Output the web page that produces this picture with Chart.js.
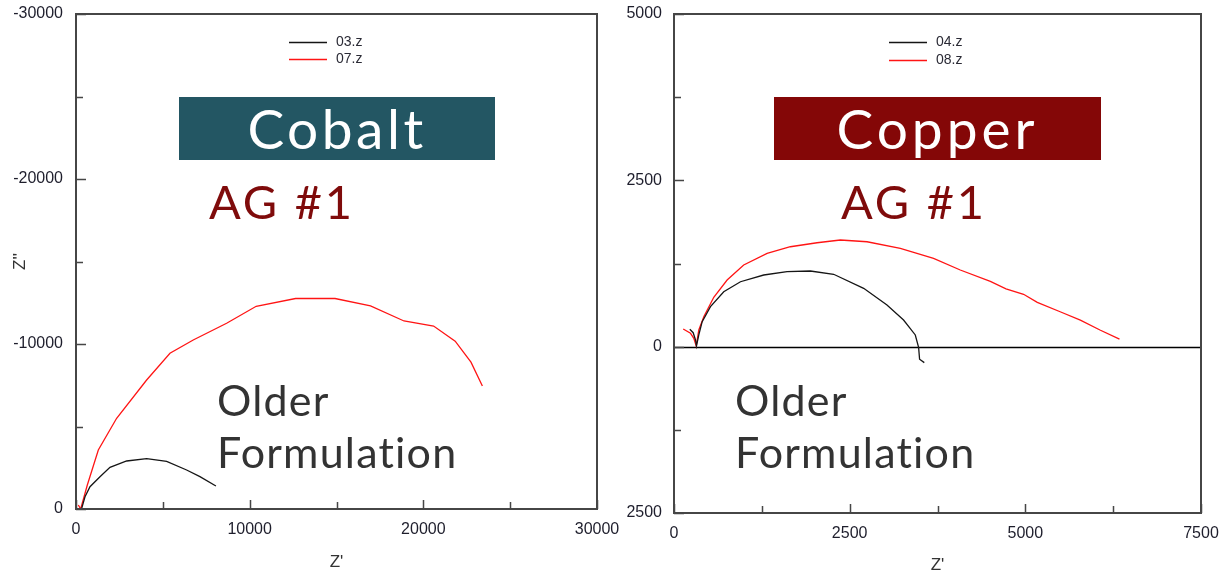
<!DOCTYPE html>
<html>
<head>
<meta charset="utf-8">
<title>Nyquist plots – Cobalt / Copper</title>
<script src="https://cdn.jsdelivr.net/npm/chart.js@4.4.0/dist/chart.umd.min.js"></script>
<style>
  html, body { margin: 0; padding: 0; background: #fff; }
  body { width: 1224px; height: 577px; position: relative; overflow: hidden; }
  #leftWrap { position: absolute; left: 0; top: 0; width: 622px; height: 577px; }
  #rightWrap { position: absolute; left: 627px; top: 0; width: 597px; height: 577px; overflow: hidden; }
  #rightWrap canvas { position: absolute; left: -17px; top: 0; }
  .tag, .ag, .older { font-family: Lato, "Noto Sans", sans-serif; font-variant-ligatures: none;
                      font-feature-settings: "liga" 0; white-space: nowrap; position: absolute; }
  .tag { color: #fff; text-align: center; font-size: 55px; height: 63px; line-height: 63px; top: 97px; }
  .ag { color: #7f0b0b; font-size: 47px; line-height: 47px; top: 178px; letter-spacing: 2.8px; }
  .older { color: #333; font-size: 43px; line-height: 52px; top: 374px; letter-spacing: 1.2px; }
</style>
</head>
<body>
<div id="leftWrap"><canvas id="cobalt" width="622" height="577"></canvas></div>
<div id="rightWrap"><canvas id="copper" width="614" height="577"></canvas></div>

<div class="tag" style="left:179px;width:316px;background:#235663;letter-spacing:3.5px;">Cobalt</div>
<div class="ag" style="left:209px;">AG #1</div>
<div class="older" style="left:217px;">Older<br>Formulation</div>

<div class="tag" style="left:774px;width:327px;background:#840707;letter-spacing:4px;">Copper</div>
<div class="ag" style="left:841px;">AG #1</div>
<div class="older" style="left:735px;">Older<br>Formulation</div>

<script>
// ---- Cobalt, sample 03.z (Z' / Z'' in ohm) ----
const cobalt03Re = [328, 518, 806, 1381, 1957, 2917, 4068, 5220, 6370, 7136, 8057];
const cobalt03Im = [-42, -745, -1352, -1958, -2525, -2909, -3051, -2889, -2364, -1958, -1394];
// ---- Cobalt, sample 07.z ----
const cobalt07Re = [134, 268, 652, 1285, 2340, 4067, 5410, 6750, 8673, 10376, 12644, 14915, 16959, 18887, 20591, 21834, 22743, 23400];
const cobalt07Im = [-242, 0, -1455, -3576, -5497, -7818, -9436, -10242, -11255, -12285, -12758, -12758, -12310, -11395, -11090, -10170, -8900, -7450];
// ---- Copper, sample 04.z ----
const copper04Re = [225, 273, 306, 320, 353, 401, 519, 708, 946, 1277, 1609, 1941, 2272, 2699, 3031, 3267, 3434, 3481, 3495, 3562];
const copper04Im = [-261, -210, -101, -10, -176, -376, -601, -826, -976, -1077, -1127, -1137, -1088, -877, -626, -401, -176, 9, 189, 240];
// ---- Copper, sample 08.z ----
const copper08Re = [131, 235, 282, 316, 353, 424, 566, 756, 992, 1325, 1656, 2036, 2367, 2747, 3221, 3694, 4074, 4502, 4725, 4975, 5170, 5504, 5783, 6062, 6340];
const copper08Im = [-266, -201, -126, -10, -251, -451, -742, -1002, -1227, -1403, -1502, -1562, -1603, -1577, -1478, -1328, -1152, -980, -870, -787, -665, -521, -400, -251, -113];

// ---- axis ranges and labelled tick values ----
const cobaltXRange = [0, 30000];
const cobaltYRange = [-30000, 0];
const cobaltXLabels = [0, 10000, 20000, 30000];
const cobaltYLabels = [-30000, -20000, -10000, 0];
const copperXRange = [0, 7500];
const copperYRange = [-5000, 2500];
const copperXLabels = [0, 2500, 5000, 7500];
const copperYLabels = [-5000, -2500, 0, 2500];

const toPoints = (re, im) => re.map((v, i) => ({ x: v, y: im[i] }));

Chart.defaults.font.family = '"Liberation Sans", Arial, sans-serif';
Chart.defaults.font.size = 16;
Chart.defaults.color = '#1e1e2c';

// Box around the plot area, inward tick marks, optional zero line
const frameTicks = {
  id: 'frameTicks',
  beforeDatasetsDraw(chart, args, opts) {
    if (!opts.zeroLine) return;
    const { ctx, chartArea: a, scales: { y } } = chart;
    const py = Math.round(y.getPixelForValue(0)) + 0.5;
    ctx.save();
    ctx.strokeStyle = '#000';
    ctx.lineWidth = 1.6;
    ctx.beginPath(); ctx.moveTo(a.left, py); ctx.lineTo(a.right, py); ctx.stroke();
    ctx.restore();
  },
  afterDatasetsDraw(chart) {
    const { ctx, chartArea: a, scales: { x, y } } = chart;
    ctx.save();
    ctx.strokeStyle = '#464646';
    ctx.lineWidth = 2;
    ctx.strokeRect(a.left, a.top, a.right - a.left, a.bottom - a.top);
    ctx.lineWidth = 1.5;
    ctx.beginPath();
    x.ticks.forEach(t => {
      const px = Math.round(x.getPixelForValue(t.value)) + 0.5;
      const len = t.label ? 9 : 7;
      ctx.moveTo(px, a.bottom); ctx.lineTo(px, a.bottom - len);
    });
    y.ticks.forEach(t => {
      const py = Math.round(y.getPixelForValue(t.value)) + 0.5;
      const len = t.label ? 10 : 7;
      ctx.moveTo(a.left, py); ctx.lineTo(a.left + len, py);
    });
    ctx.stroke();
    ctx.restore();
  }
};

// Small stacked legend drawn inside the plot area
const innerLegend = {
  id: 'innerLegend',
  afterDraw(chart, args, opts) {
    const { ctx } = chart;
    ctx.save();
    ctx.font = '14px "Liberation Sans", Arial, sans-serif';
    ctx.textBaseline = 'middle';
    chart.data.datasets.forEach((ds, i) => {
      const y = opts.y + i * opts.gap + 0.5;
      ctx.strokeStyle = ds.borderColor;
      ctx.lineWidth = 1.5;
      ctx.beginPath(); ctx.moveTo(opts.x, y); ctx.lineTo(opts.x + opts.len, y); ctx.stroke();
      ctx.fillStyle = '#2a2a35';
      ctx.fillText(ds.label, opts.x + opts.len + 9, y);
    });
    ctx.restore();
  }
};

function makeChart(id, series, xr, yr, xLabels, yLabels, xStep, yStep, layout, legendPos, extras) {
  return new Chart(document.getElementById(id), {
    type: 'scatter',
    data: {
      datasets: series.map(s => ({
        label: s.label,
        data: s.data,
        showLine: true,
        borderColor: s.color,
        borderWidth: 1.3,
        pointRadius: 0,
        tension: 0,
        fill: false
      }))
    },
    options: {
      responsive: false,
      animation: false,
      devicePixelRatio: 1,
      layout: { padding: layout.padding },
      plugins: {
        legend: { display: false },
        tooltip: { enabled: false },
        innerLegend: legendPos,
        frameTicks: { zeroLine: !!extras.zeroLine }
      },
      scales: {
        x: {
          type: 'linear', position: 'bottom', min: xr[0], max: xr[1],
          grid: { display: false, drawTicks: false },
          border: { display: false },
          ticks: {
            stepSize: xStep, autoSkip: false, maxRotation: 0, padding: layout.xPad,
            callback: v => xLabels.includes(v) ? String(v) : ''
          },
          title: { display: true, text: "Z'", font: { size: 17 }, color: '#333', padding: { top: 0, bottom: layout.xTitlePad } },
          afterFit: s => { s.height = layout.xHeight; s.paddingLeft = 0; s.paddingRight = 0; }
        },
        y: {
          type: 'linear', position: 'left', min: yr[0], max: yr[1], reverse: true,
          grid: { display: false, drawTicks: false },
          border: { display: false },
          ticks: {
            stepSize: yStep, autoSkip: false, padding: layout.yPad,
            callback: v => yLabels.includes(v) ? String(v) : ''
          },
          title: { display: extras.yTitle, text: "Z''", font: { size: 17 }, color: '#333', padding: { top: layout.yTitlePad, bottom: 0 } },
          afterFit: s => { s.width = layout.yWidth; s.paddingTop = 0; s.paddingBottom = 0; }
        }
      }
    },
    plugins: [frameTicks, innerLegend]
  });
}

makeChart('cobalt',
  [{ label: '03.z', data: toPoints(cobalt03Re, cobalt03Im), color: '#151515' },
   { label: '07.z', data: toPoints(cobalt07Re, cobalt07Im), color: '#ff1414' }],
  cobaltXRange, cobaltYRange, cobaltXLabels, cobaltYLabels, 5000, 5000,
  { padding: { top: 14, right: 25, left: 0, bottom: 0 }, xHeight: 68, yWidth: 76, xPad: 11, yPad: 13, xTitlePad: 4, yTitlePad: 10 },
  { x: 289, y: 42, gap: 17, len: 38 },
  { yTitle: true, zeroLine: false });

makeChart('copper',
  [{ label: '04.z', data: toPoints(copper04Re, copper04Im), color: '#151515' },
   { label: '08.z', data: toPoints(copper08Re, copper08Im), color: '#ff1414' }],
  copperXRange, copperYRange, copperXLabels, copperYLabels, 1250, 1250,
  { padding: { top: 14, right: 23, left: 0, bottom: 0 }, xHeight: 64, yWidth: 64, xPad: 11, yPad: 12, xTitlePad: 1, yTitlePad: 0 },
  { x: 279, y: 42, gap: 18, len: 38 },
  { yTitle: false, zeroLine: true });
</script>
</body>
</html>
